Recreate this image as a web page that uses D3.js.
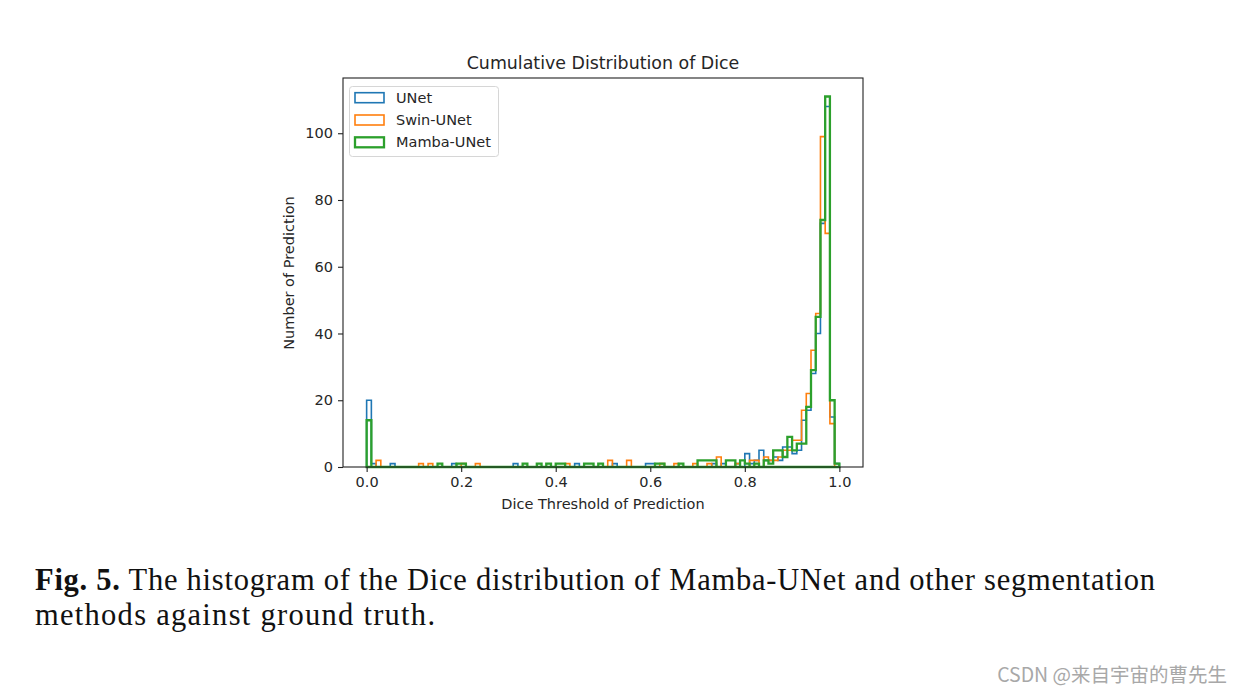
<!DOCTYPE html>
<html><head><meta charset="utf-8">
<script src="https://cdn.jsdelivr.net/npm/d3@7"></script>
<style>body{margin:0;background:#fff} svg{display:block}</style></head>
<body>
<svg id="c" width="1242" height="694"></svg>
<script>
// ---- data ----
const binStart = 0, binWidth = 0.01;
const seriesNames = ["UNet", "Swin-UNet", "Mamba-UNet"];
const unetCounts = [
  20,1,0,0,0,1,0,0,0,0,
  0,0,0,0,0,0,0,0,1,0,
  0,0,0,0,0,0,0,0,0,0,
  0,1,0,0,0,0,0,0,0,0,
  0,0,0,0,1,0,0,0,0,0,
  0,0,1,0,0,0,0,0,0,1,
  1,0,0,0,0,0,0,0,0,0,
  0,0,0,1,0,1,0,0,1,0,
  4,1,2,5,2,2,3,2,6,6,
  4,5,14,17,28,40,73,108,15,1
];
const swinCounts = [
  0,0,2,0,0,0,0,0,0,0,
  0,1,0,1,0,0,0,0,0,0,
  1,0,0,1,0,0,0,0,0,0,
  0,0,0,0,0,0,0,0,0,0,
  0,0,1,0,0,0,0,0,0,0,
  0,2,0,0,0,2,0,0,0,0,
  0,0,1,0,0,1,0,0,0,1,
  0,0,1,0,3,0,0,0,1,0,
  0,2,2,0,3,2,2,3,5,5,
  8,8,17,22,35,46,99,70,13,0
];
const mambaCounts = [
  14,0,0,0,0,0,0,0,0,0,
  0,0,0,0,0,1,0,0,0,1,
  1,0,0,0,0,0,0,0,0,0,
  0,0,0,1,0,0,1,0,1,0,
  1,1,0,0,0,0,1,1,0,1,
  0,0,0,0,0,0,0,0,0,0,
  0,1,1,0,0,0,1,0,0,0,
  2,2,2,2,0,0,2,2,0,2,
  1,0,1,0,2,1,5,5,3,9,
  5,7,7,18,29,45,74,111,20,1
];
const xTicks = [0.0, 0.2, 0.4, 0.6, 0.8, 1.0];
const yTicks = [0, 20, 40, 60, 80, 100];
const colors = ["#1f77b4", "#ff7f0e", "#2ca02c"];
const widths = [1.6, 1.6, 2.3];

// ---- layout ----
const L = 343, R = 863, T = 78, B = 467;
const svg = d3.select("#c");
const x = d3.scaleLinear().domain([-0.05, 1.05]).range([L, R]);
const y = d3.scaleLinear().domain([0, 116.55]).range([B, T]);
const font = "'DejaVu Sans', sans-serif";
const fs = "14.5px";

function stepPoints(counts) {
  const pts = [[binStart, 0]];
  counts.forEach((c, i) => {
    const e0 = binStart + i * binWidth, e1 = binStart + (i + 1) * binWidth;
    pts.push([e0, c], [e1, c]);
  });
  pts.push([binStart + counts.length * binWidth, 0]);
  return pts;
}
const line = d3.line().x(d => x(d[0])).y(d => y(d[1]));
const allSeries = [unetCounts, swinCounts, mambaCounts];

const g = svg.append("g");
allSeries.forEach((counts, k) => {
  g.append("path")
    .attr("d", line(stepPoints(counts)) + "Z")
    .attr("fill", "none")
    .attr("stroke", colors[k])
    .attr("stroke-width", widths[k])
    .attr("stroke-linejoin", "miter");
});

// axes
const xAxis = d3.axisBottom(x).tickValues(xTicks).tickFormat(d3.format(".1f")).tickSize(5).tickPadding(5);
const yAxis = d3.axisLeft(y).tickValues(yTicks).tickFormat(d3.format("d")).tickSize(5).tickPadding(5);
const gx = svg.append("g").attr("transform", `translate(0,${B})`).call(xAxis);
const gy = svg.append("g").attr("transform", `translate(${L},0)`).call(yAxis);
[gx, gy].forEach(a => {
  a.select(".domain").remove();
  a.selectAll("line").attr("stroke", "#222").attr("stroke-width", 1.1);
  a.selectAll("text").attr("fill", "#262626").style("font-family", font).style("font-size", fs);
});

// frame
svg.append("rect").attr("x", L).attr("y", T).attr("width", R - L).attr("height", B - T)
  .attr("fill", "none").attr("stroke", "#222").attr("stroke-width", 1.1);

// titles
svg.append("text").attr("x", 603).attr("y", 69).attr("text-anchor", "middle")
  .style("font-family", font).style("font-size", "17.4px").attr("fill", "#262626")
  .text("Cumulative Distribution of Dice");
svg.append("text").attr("x", 603).attr("y", 509).attr("text-anchor", "middle")
  .style("font-family", font).style("font-size", fs).attr("fill", "#262626")
  .text("Dice Threshold of Prediction");
svg.append("text").attr("transform", `translate(294,273) rotate(-90)`).attr("text-anchor", "middle")
  .style("font-family", font).style("font-size", fs).attr("fill", "#262626")
  .text("Number of Prediction");

// legend
const lg = svg.append("g");
lg.append("rect").attr("x", 349.5).attr("y", 86.5).attr("width", 149).attr("height", 70)
  .attr("rx", 3).attr("fill", "#fff").attr("fill-opacity", 0.8).attr("stroke", "#d6d6d6").attr("stroke-width", 1);
seriesNames.forEach((name, k) => {
  const cy = 97.7 + k * 22.3;
  lg.append("rect").attr("x", 355).attr("y", cy - 5).attr("width", 29).attr("height", 10)
    .attr("fill", "none").attr("stroke", colors[k]).attr("stroke-width", widths[k]);
  lg.append("text").attr("x", 396).attr("y", cy + 5)
    .style("font-family", font).style("font-size", fs).attr("fill", "#262626").text(name);
});

// caption
const cap1 = svg.append("text").attr("x", 35).attr("y", 590)
  .style("font-family", "'Liberation Serif', serif").style("font-size", "30.5px").attr("fill", "#111")
  .attr("textLength", 1120).attr("lengthAdjust", "spacing");
cap1.append("tspan").style("font-weight", "bold").text("Fig. 5.");
cap1.append("tspan").text(" The histogram of the Dice distribution of Mamba-UNet and other segmentation");
svg.append("text").attr("x", 35).attr("y", 625)
  .style("font-family", "'Liberation Serif', serif").style("font-size", "30.5px").attr("fill", "#111")
  .attr("textLength", 400).attr("lengthAdjust", "spacing")
  .text("methods against ground truth.");

// watermark
svg.append("text").attr("x", 1227).attr("y", 682).attr("text-anchor", "end")
  .style("font-family", "'Noto Sans CJK SC', sans-serif").style("font-size", "19.5px").attr("fill", "#a8a8a8")
  .text("CSDN @来自宇宙的曹先生");
</script>
</body></html>
